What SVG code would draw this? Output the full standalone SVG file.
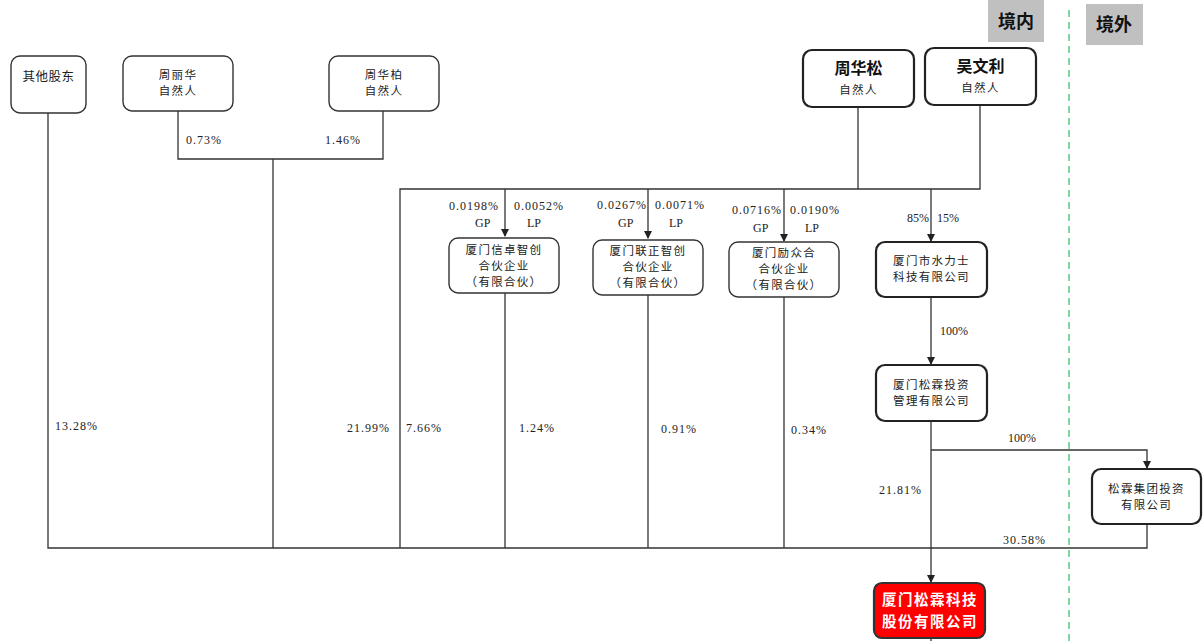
<svg xmlns="http://www.w3.org/2000/svg" width="1203" height="641" viewBox="0 0 1203 641">
<defs>
<marker id="arr" markerWidth="8" markerHeight="8" refX="7" refY="4" orient="auto" markerUnits="userSpaceOnUse"><path d="M0,0 L8,4 L0,8 Z" fill="#222"/></marker>
<style>
.box{fill:#fff;stroke:#333;stroke-width:1.4}
.bbox{fill:#fff;stroke:#222;stroke-width:2.2}
.ln{fill:none;stroke:#333;stroke-width:1.3}
.t{font-family:"Noto Sans CJK SC","Noto Sans",sans-serif;font-size:12.5px;fill:#222;text-anchor:middle;letter-spacing:0.5px}
.ts{font-family:"Noto Sans CJK SC","Noto Sans",sans-serif;font-size:11.5px;fill:#222;text-anchor:middle;letter-spacing:1.3px}
.tb{font-family:"Noto Sans CJK SC","Noto Sans",sans-serif;font-size:16px;font-weight:bold;fill:#111;text-anchor:middle}
.tw{font-family:"Noto Sans CJK SC","Noto Sans",sans-serif;font-size:14.5px;font-weight:bold;fill:#fff;text-anchor:middle;letter-spacing:1.5px}
.p{font-family:"Liberation Serif","Noto Sans CJK SC",serif;font-size:12px;fill:#222;letter-spacing:1px}
.q{font-family:"Liberation Serif","Noto Sans CJK SC",serif;font-size:12px;fill:#222}
.zone{font-family:"Noto Sans CJK SC",sans-serif;font-size:18px;font-weight:bold;fill:#111;text-anchor:middle}
</style>
</defs>
<rect width="1203" height="641" fill="#fff"/>

<g id="zones">
<rect x="988" y="0" width="56" height="42" fill="#c0c0c0"/>
<text class="zone" x="1016" y="28">境内</text>
<rect x="1086" y="4" width="57" height="41" fill="#c0c0c0"/>
<text class="zone" x="1114" y="31">境外</text>
<line x1="1069" y1="10" x2="1069" y2="641" stroke="#5fcf8a" stroke-width="1.6" stroke-dasharray="7,5"/>
</g>

<g id="connectors">
<path class="ln" d="M48,113 V548 H1147 V524"/>
<path class="ln" d="M178,111 V159 H383 V111"/>
<path class="ln" d="M273,159 V548"/>
<path class="ln" d="M400,548 V189 H980 V105"/>
<path class="ln" d="M858,107 V189"/>
<path class="ln" d="M505,189 V236" marker-end="url(#arr)"/>
<path class="ln" d="M648,189 V238" marker-end="url(#arr)"/>
<path class="ln" d="M784,189 V241" marker-end="url(#arr)"/>
<path class="ln" d="M931,189 V241" marker-end="url(#arr)"/>
<path class="ln" d="M505,293 V548"/>
<path class="ln" d="M648,295 V548"/>
<path class="ln" d="M784,297 V548"/>
<path class="ln" d="M931,297 V364" marker-end="url(#arr)"/>
<path class="ln" d="M931,421 V582" marker-end="url(#arr)"/>
<path class="ln" d="M931,450 H1147 V468" marker-end="url(#arr)"/>
<path class="ln" d="M931,638 V641"/>
<text class="p" x="186" y="144">0.73%</text>
<text class="p" x="325" y="144">1.46%</text>
<text class="p" x="449" y="210">0.0198%</text>
<text class="p" x="514" y="210">0.0052%</text>
<text class="q" x="475" y="227">GP</text>
<text class="q" x="527" y="227">LP</text>
<text class="p" x="597" y="209">0.0267%</text>
<text class="p" x="655" y="209">0.0071%</text>
<text class="q" x="618" y="227">GP</text>
<text class="q" x="669" y="227">LP</text>
<text class="p" x="732" y="214">0.0716%</text>
<text class="p" x="790" y="214">0.0190%</text>
<text class="q" x="753" y="232">GP</text>
<text class="q" x="805" y="232">LP</text>
<text class="q" x="907" y="222">85%</text>
<text class="q" x="937" y="222">15%</text>
<text class="q" x="940" y="335">100%</text>
<text class="q" x="1008" y="442">100%</text>
<text class="p" x="55" y="430">13.28%</text>
<text class="p" x="347" y="432">21.99%</text>
<text class="p" x="406" y="432">7.66%</text>
<text class="p" x="519" y="432">1.24%</text>
<text class="p" x="661" y="433">0.91%</text>
<text class="p" x="791" y="434">0.34%</text>
<text class="p" x="879" y="494">21.81%</text>
<text class="p" x="1003" y="544">30.58%</text>
</g>

<g id="n-others">
<rect class="box" x="11" y="56" width="75" height="57" rx="9"/>
<text class="t" x="48.5" y="81">其他股东</text>
</g>
<g id="n-zhoulihua">
<rect class="box" x="123" y="56" width="110" height="55" rx="9"/>
<text class="ts" x="178" y="79">周丽华</text>
<text class="ts" x="178" y="95">自然人</text>
</g>
<g id="n-zhouhuabai">
<rect class="box" x="329" y="56" width="110" height="55" rx="9"/>
<text class="ts" x="384" y="79">周华柏</text>
<text class="ts" x="384" y="95">自然人</text>
</g>
<g id="n-zhouhuasong">
<rect class="bbox" x="803" y="50" width="111" height="57" rx="9"/>
<text class="tb" x="858.5" y="74">周华松</text>
<text class="ts" x="858.5" y="94">自然人</text>
</g>
<g id="n-wuwenli">
<rect class="bbox" x="925" y="48" width="111" height="57" rx="9"/>
<text class="tb" x="980.5" y="72">吴文利</text>
<text class="ts" x="980.5" y="92">自然人</text>
</g>
<g id="n-xinzhuo">
<rect class="box" x="449" y="238" width="110" height="55" rx="9"/>
<text class="ts" x="504" y="254">厦门信卓智创</text>
<text class="ts" x="504" y="270">合伙企业</text>
<text class="ts" x="504" y="286">（有限合伙）</text>
</g>
<g id="n-lianzheng">
<rect class="box" x="593" y="240" width="110" height="55" rx="9"/>
<text class="ts" x="648" y="255">厦门联正智创</text>
<text class="ts" x="648" y="271">合伙企业</text>
<text class="ts" x="648" y="287">（有限合伙）</text>
</g>
<g id="n-lizhonghe">
<rect class="box" x="729" y="242" width="110" height="55" rx="9"/>
<text class="ts" x="784" y="257">厦门励众合</text>
<text class="ts" x="784" y="273">合伙企业</text>
<text class="ts" x="784" y="289">（有限合伙）</text>
</g>
<g id="n-shuilishi">
<rect class="bbox" x="876" y="242" width="111" height="55" rx="9"/>
<text class="ts" x="931.5" y="265">厦门市水力士</text>
<text class="ts" x="931.5" y="281">科技有限公司</text>
</g>
<g id="n-songlin-inv">
<rect class="bbox" x="876" y="365" width="111" height="56" rx="9"/>
<text class="ts" x="931.5" y="389">厦门松霖投资</text>
<text class="ts" x="931.5" y="405">管理有限公司</text>
</g>
<g id="n-songlin-group">
<rect class="bbox" x="1092" y="469" width="109" height="55" rx="9"/>
<text class="ts" x="1146.5" y="493">松霖集团投资</text>
<text class="ts" x="1146.5" y="509">有限公司</text>
</g>
<g id="n-target">
<rect x="874" y="583" width="111" height="55" rx="8" fill="#ff0000" stroke="#333" stroke-width="2.2"/>
<text class="tw" x="930" y="605">厦门松霖科技</text>
<text class="tw" x="930" y="627">股份有限公司</text>
</g>
</svg>
